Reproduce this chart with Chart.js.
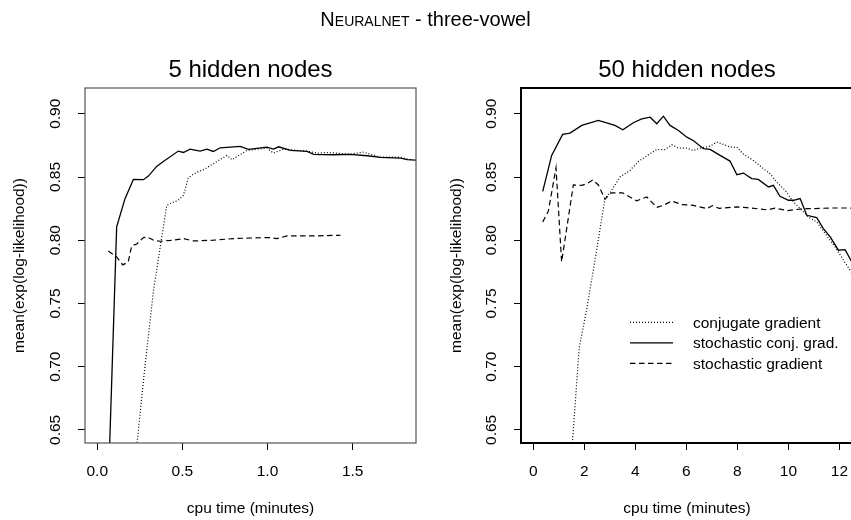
<!DOCTYPE html>
<html><head><meta charset="utf-8">
<script src="https://cdn.jsdelivr.net/npm/chart.js@4.4.1/dist/chart.umd.min.js"></script>
<style>
html,body{margin:0;padding:0;overflow:hidden;background:#fff;width:851px;height:520px;}
#wrap{position:relative;width:851px;height:520px;overflow:hidden;background:#fff;}
#main{position:absolute;left:0;top:9px;width:851px;text-align:center;font:20px/20px "Liberation Sans",Arial,sans-serif;color:#000;}
.sc{font-variant:small-caps;}
#c1{position:absolute;left:0;top:0;}
#c2{position:absolute;left:430px;top:0;}
</style></head><body>
<div id="wrap">
<canvas id="c1" width="430" height="520"></canvas>
<canvas id="c2" width="440" height="520"></canvas>
<div id="main"><span class="sc">Neuralnet</span> - three-vowel</div>
</div>
<script>
// ---------- data ----------
const panelTitles = ['5 hidden nodes', '50 hidden nodes'];
const seriesNames = ['conjugate gradient', 'stochastic conj. grad.', 'stochastic gradient'];
const xTitle = 'cpu time (minutes)';
const yTitle = 'mean(exp(log-likelihood))';
const yTicks = [0.65, 0.70, 0.75, 0.80, 0.85, 0.90];
const yTickLabels = ['0.65', '0.70', '0.75', '0.80', '0.85', '0.90'];
const xTicks5 = [0, 0.5, 1.0, 1.5];
const xTickLabels5 = ['0.0', '0.5', '1.0', '1.5'];
const xTicks50 = [0, 2, 4, 6, 8, 10, 12];
const xTickLabels50 = ['0', '2', '4', '6', '8', '10', '12'];

// 5 hidden nodes
const cg5X = [0, 0.28, 0.33, 0.379, 0.408, 0.428, 0.476, 0.506, 0.535, 0.585, 0.624, 0.682, 0.761, 0.791, 0.879, 0.996, 1.035, 1.094, 1.232, 1.291, 1.349, 1.486, 1.565, 1.604, 1.663, 1.781, 1.820, 1.840];
const cg5Y = [0.333, 0.700, 0.760, 0.8026, 0.8276, 0.8290, 0.8316, 0.8355, 0.8495, 0.8539, 0.8558, 0.8605, 0.8671, 0.8637, 0.8710, 0.8728, 0.8689, 0.8721, 0.8705, 0.8689, 0.8694, 0.8681, 0.8697, 0.8679, 0.8657, 0.8657, 0.8642, 0.8638];
const scg5X = [0, 0.114, 0.163, 0.212, 0.271, 0.300, 0.349, 0.388, 0.476, 0.506, 0.545, 0.604, 0.644, 0.682, 0.722, 0.839, 0.888, 0.996, 1.035, 1.065, 1.134, 1.232, 1.271, 1.388, 1.486, 1.585, 1.663, 1.781, 1.820, 1.900];
const scg5Y = [0.333, 0.8105, 0.8329, 0.8481, 0.8479, 0.8507, 0.8584, 0.8623, 0.8705, 0.8694, 0.8721, 0.8705, 0.8721, 0.8702, 0.8731, 0.8742, 0.8718, 0.8736, 0.8721, 0.8739, 0.8710, 0.8702, 0.8679, 0.8676, 0.8679, 0.8668, 0.8655, 0.8649, 0.8637, 0.8632];
const sg5X = [0.065, 0.114, 0.150, 0.182, 0.202, 0.232, 0.271, 0.295, 0.335, 0.369, 0.447, 0.506, 0.565, 0.682, 0.800, 0.918, 1.016, 1.055, 1.114, 1.271, 1.428];
const sg5Y = [0.7915, 0.7868, 0.7805, 0.7828, 0.7955, 0.7970, 0.8020, 0.8024, 0.7998, 0.7992, 0.8000, 0.8013, 0.7994, 0.8000, 0.8013, 0.8018, 0.8021, 0.8012, 0.8034, 0.8034, 0.8039];

// 50 hidden nodes
const cg50X = [0.40, 1.80, 2.09, 2.35, 2.62, 2.81, 3.07, 3.40, 3.79, 4.12, 4.58, 4.84, 5.16, 5.43, 5.69, 6.02, 6.27, 6.54, 6.93, 7.19, 7.45, 7.71, 7.98, 8.24, 8.63, 9.02, 9.28, 9.54, 9.87, 10.20, 10.46, 10.78, 11.11, 11.44, 11.83, 12.16, 12.46, 12.60];
const cg50Y = [0.320, 0.715, 0.745, 0.776, 0.8092, 0.8329, 0.8395, 0.8500, 0.8552, 0.8623, 0.8684, 0.8718, 0.8716, 0.8755, 0.8728, 0.8728, 0.8710, 0.8728, 0.8744, 0.8776, 0.8758, 0.8737, 0.8737, 0.8679, 0.8631, 0.8566, 0.8526, 0.8460, 0.8395, 0.8302, 0.8250, 0.8184, 0.8144, 0.8053, 0.7947, 0.7842, 0.7750, 0.7700];
const scg50X = [0.37, 0.72, 1.15, 1.44, 1.90, 2.55, 3.20, 3.51, 3.92, 4.25, 4.58, 4.84, 5.10, 5.36, 5.69, 6.02, 6.27, 6.67, 6.93, 7.32, 7.71, 7.98, 8.24, 8.56, 8.82, 9.22, 9.41, 9.67, 10.00, 10.20, 10.46, 10.72, 11.11, 11.37, 11.64, 11.96, 12.22, 12.45, 12.60];
const scg50Y = [0.8387, 0.8671, 0.8837, 0.8847, 0.8908, 0.8947, 0.8908, 0.8874, 0.8929, 0.8960, 0.8973, 0.8921, 0.8981, 0.8908, 0.8868, 0.8815, 0.8789, 0.8724, 0.8718, 0.8671, 0.8626, 0.8518, 0.8531, 0.8487, 0.8481, 0.8421, 0.8434, 0.8347, 0.8316, 0.8316, 0.8329, 0.8197, 0.8179, 0.8092, 0.8026, 0.7921, 0.7926, 0.7842, 0.7790];
const sg50X = [0.37, 0.59, 0.89, 1.11, 1.57, 1.90, 2.09, 2.33, 2.55, 2.81, 3.07, 3.50, 4.05, 4.45, 4.84, 5.10, 5.43, 5.82, 6.27, 6.80, 7.03, 7.28, 7.98, 8.37, 9.18, 9.47, 9.97, 10.59, 10.98, 11.64, 12.29, 12.60];
const sg50Y = [0.8145, 0.8230, 0.8572, 0.7829, 0.8437, 0.8434, 0.8447, 0.8476, 0.8437, 0.8326, 0.8375, 0.8375, 0.8312, 0.8342, 0.8260, 0.8276, 0.8310, 0.8282, 0.8276, 0.8250, 0.8274, 0.8252, 0.8263, 0.8258, 0.8240, 0.8254, 0.8234, 0.8250, 0.8250, 0.8255, 0.8255, 0.8252];

// ---------- helpers ----------
const FONT = '"Liberation Sans", Arial, Helvetica, sans-serif';
const pts = (xs, ys) => xs.map((x, i) => ({x: x, y: ys[i]}));
const styles = [
  {borderDash: [1, 2], borderWidth: 1.2},
  {borderDash: [], borderWidth: 1.3},
  {borderDash: [5.5, 3.5], borderWidth: 1.2}
];

const panelDeco = {
  id: 'panelDeco',
  afterDraw(chart, args, o) {
    const ctx = chart.ctx, a = chart.chartArea;
    ctx.save();
    ctx.setLineDash([]);
    ctx.strokeStyle = o.boxColor;
    ctx.lineWidth = o.boxWidth;
    ctx.strokeRect(a.left, a.top, a.right - a.left, a.bottom - a.top);
    ctx.fillStyle = '#000';
    ctx.font = '24px ' + FONT;
    ctx.textAlign = 'center';
    ctx.textBaseline = 'alphabetic';
    ctx.fillText(o.title, (a.left + a.right) / 2, a.top - o.titleGap);
    if (o.legend) {
      const L = o.legend;
      ctx.font = '15.5px ' + FONT;
      ctx.textAlign = 'left';
      ctx.textBaseline = 'middle';
      chart.data.datasets.forEach((ds, i) => {
        const y = a.top + L.top + i * L.rowH;
        ctx.beginPath();
        ctx.setLineDash(ds.borderDash || []);
        ctx.lineWidth = ds.borderWidth;
        ctx.strokeStyle = '#000';
        ctx.moveTo(a.left + L.x0, y);
        ctx.lineTo(a.left + L.x1, y);
        ctx.stroke();
        ctx.setLineDash([]);
        ctx.fillText(ds.label, a.left + L.tx, y + 1);
      });
    }
    ctx.restore();
  }
};

function makePanel(canvasId, cfg) {
  const font = {family: FONT, size: 15.5};
  const grid = {drawOnChartArea: false, drawTicks: true, tickLength: 7, color: '#000', lineWidth: 1};
  return new Chart(document.getElementById(canvasId), {
    type: 'line',
    data: {
      datasets: cfg.series.map((s, i) => ({
        label: seriesNames[i],
        data: pts(s[0], s[1]),
        borderColor: '#000',
        backgroundColor: '#000',
        borderWidth: styles[i].borderWidth,
        borderDash: styles[i].borderDash,
        pointRadius: 0,
        fill: false,
        tension: 0
      }))
    },
    options: {
      responsive: false,
      animation: false,
      devicePixelRatio: 1,
      layout: {padding: cfg.padding},
      plugins: {
        legend: {display: false},
        title: {display: false},
        tooltip: {enabled: false},
        panelDeco: cfg.deco
      },
      scales: {
        x: {
          type: 'linear',
          min: cfg.xMin, max: cfg.xMax,
          afterBuildTicks: s => { s.ticks = cfg.xTicks.map(v => ({value: v})); },
          afterFit: s => { s.height = cfg.xH; },
          grid: grid,
          border: {display: false},
          ticks: {color: '#000', font: font, padding: 12.5, maxRotation: 0, autoSkip: false,
                  callback: (v, i) => cfg.xLabels[i]},
          title: {display: true, text: xTitle, color: '#000', font: font, padding: {top: 0, bottom: 2.2}}
        },
        y: {
          type: 'linear',
          min: 0.6396, max: 0.9204,
          afterBuildTicks: s => { s.ticks = yTicks.map(v => ({value: v})); },
          afterFit: s => { s.width = cfg.yW; },
          grid: grid,
          border: {display: false},
          ticks: {color: '#000', font: font, padding: 7, minRotation: 90, maxRotation: 90,
                  crossAlign: 'center', autoSkip: false, callback: (v, i) => yTickLabels[i]},
          title: {display: true, text: yTitle, color: '#000', font: font, padding: {top: cfg.yTitlePad, bottom: 0}}
        }
      }
    },
    plugins: [panelDeco]
  });
}

makePanel('c1', {
  series: [[cg5X, cg5Y], [scg5X, scg5Y], [sg5X, sg5Y]],
  xMin: -0.072, xMax: 1.872,
  xTicks: xTicks5, xLabels: xTickLabels5,
  padding: {left: 0, top: 88, right: 14, bottom: 0},
  yW: 85, xH: 77, yTitlePad: 10.5,
  deco: {title: panelTitles[0], titleGap: 11, boxColor: '#555', boxWidth: 1.2, legend: null}
});

makePanel('c2', {
  series: [[cg50X, cg50Y], [scg50X, scg50Y], [sg50X, sg50Y]],
  xMin: -0.482, xMax: 12.532,
  xTicks: xTicks50, xLabels: xTickLabels50,
  padding: {left: 0, top: 88, right: 17, bottom: 0},
  yW: 91, xH: 77, yTitlePad: 17.5,
  deco: {title: panelTitles[1], titleGap: 11, boxColor: '#000', boxWidth: 2,
         legend: {x0: 109, x1: 152, tx: 172, top: 234.3, rowH: 20.5}}
});
</script>
</body></html>
